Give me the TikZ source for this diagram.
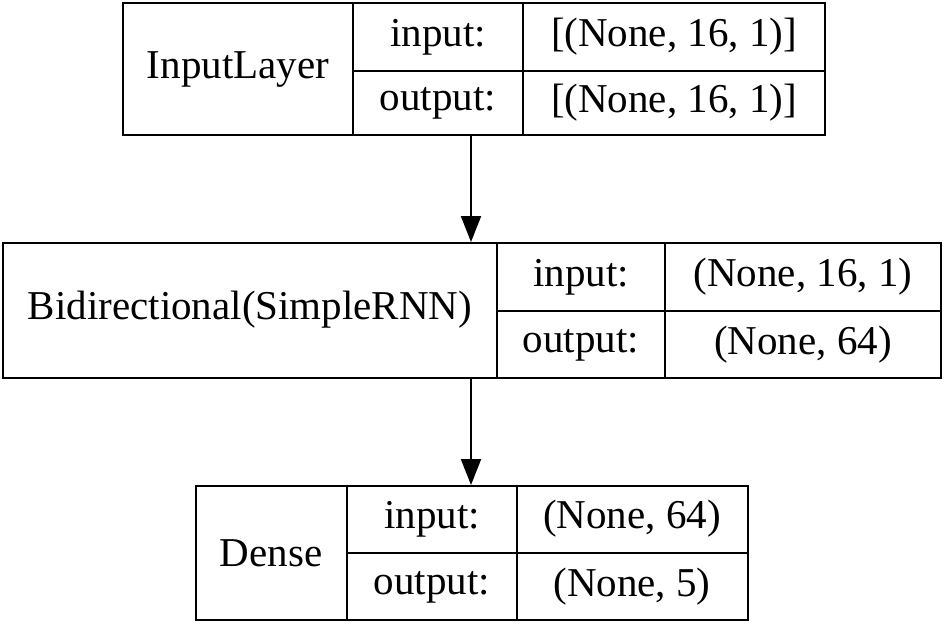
\documentclass[tikz,border=0pt]{standalone}
\usepackage{fontspec}
\setmainfont{Liberation Serif}
\usetikzlibrary{arrows.meta}
\begin{document}
\begin{tikzpicture}[x=1pt,y=-1pt,
  box/.style={draw,line width=2pt,rectangle,inner sep=0pt},
  lbl/.style={inner sep=0pt,font=\fontsize{41}{49}\selectfont},
  div/.style={line width=2pt},
  arr/.style={line width=2pt,-{Triangle[width=20pt,length=26pt]}}]
\useasboundingbox (0,0) rectangle (944,625);
% Box 1
\node[box,minimum width=702pt,minimum height=132pt] (b1) at (474,69) {};
\draw[div] (353,3) -- (353,135) (523,3) -- (523,135) (353,71) -- (825,71);
\node[lbl] (t1) at (238,69) {InputLayer};
\node[lbl] (t1i) at (438,37) {input:};
\node[lbl] (t1o) at (438,103) {output:};
\node[lbl] (t1iv) at (674,37) {[(None, 16, 1)]};
\node[lbl] (t1ov) at (674,103) {[(None, 16, 1)]};
% Box 2
\node[box,minimum width=938pt,minimum height=135pt] (b2) at (472,310.5) {};
\draw[div] (497,243) -- (497,378) (665,243) -- (665,378) (497,311) -- (941,311);
\node[lbl] (t2) at (250,310) {Bidirectional(SimpleRNN)};
\node[lbl] (t2i) at (581,277) {input:};
\node[lbl] (t2o) at (581,345) {output:};
\node[lbl] (t2iv) at (803,277) {(None, 16, 1)};
\node[lbl] (t2ov) at (803,345) {(None, 64)};
% Box 3
\node[box,minimum width=552pt,minimum height=134pt] (b3) at (472,553) {};
\draw[div] (347,486) -- (347,620) (517,486) -- (517,620) (347,553) -- (748,553);
\node[lbl] (t3) at (271,553) {Dense};
\node[lbl] (t3i) at (432,519) {input:};
\node[lbl] (t3o) at (432,587) {output:};
\node[lbl] (t3iv) at (632,519) {(None, 64)};
\node[lbl] (t3ov) at (632,587) {(None, 5)};
% arrows
\coordinate (ax) at (471,0);
\draw[arr] (b1.south -| ax) -- (b2.north -| ax);
\draw[arr] (b2.south -| ax) -- (b3.north -| ax);
\end{tikzpicture}
\end{document}
